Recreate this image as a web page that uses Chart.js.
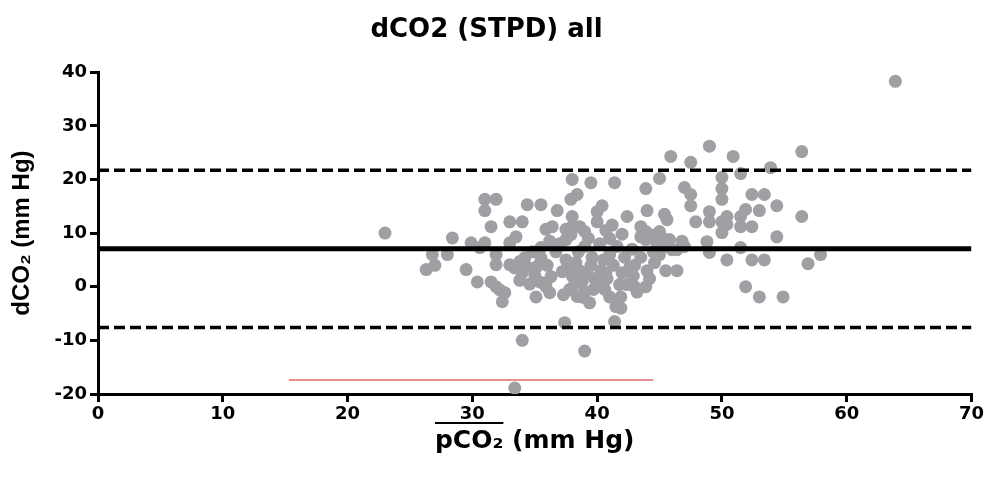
<!DOCTYPE html>
<html>
<head>
<meta charset="utf-8">
<title>dCO2 (STPD) all</title>
<script src="https://cdn.jsdelivr.net/npm/chart.js@4/dist/chart.umd.min.js"></script>
<style>
  html, body { margin: 0; padding: 0; background: #fff; }
  canvas { display: block; }
</style>
</head>
<body>
<canvas id="bland-chart" width="986" height="478"></canvas>
<script>
// measured pairs: mean pCO2 (x) vs difference dCO2 (y)
const pco2Mean = [
  23, 26.3, 26.8, 27, 28, 28.4, 29.5, 29.9, 30.4, 30.6,
  31, 31, 31, 31.9, 31.5, 31.5, 31.9, 32.2, 32.6, 32.4, 31.9, 31.9, 33, 34, 33, 33.5, 33, 33.4, 33.8, 34.2, 34.4, 34, 34, 33.4,
  34.4, 35.5, 35, 35.4, 35.9, 36.3, 35.1, 35.9, 36.2, 35.5, 35.5, 35.9, 36.4, 36.8, 37.4,
  37.5, 37.5, 38, 37.9, 38.6, 39, 38, 37.9, 38.4, 38, 39.5,
  37.5, 37.6, 38, 38.3, 38.6, 38.2, 37.8, 38.8, 39, 39.2, 39.5, 39.8, 38.5, 39, 39.6, 37.2, 38.9, 39.4, 39,
  40.4, 40, 40, 41.4, 40.3, 40.8, 40, 41, 41.9, 41.5, 41.9, 41.4, 42, 41.8, 42.4, 40.5, 41, 41.3, 41.6, 40.2, 42.2, 42.6, 41, 40.6,
  42.4, 43.9, 45, 44, 43.5, 43.9, 43.5, 43.9, 44.3, 45, 45, 45.4, 45.8, 45.4, 45.6, 43, 43.9, 45.5, 46.4, 45, 45.5, 46, 46.4, 43, 43.5, 44, 44.5, 42.8, 44.6, 45.9,
  47.5, 49, 50.9, 47, 47.5, 47.5, 47.9, 49, 49, 50, 50, 50, 50, 50.4, 50, 50.4, 51.5, 51.9, 51.5, 51.5, 51.5, 50.4, 48.8, 49, 51.9, 47, 46.8,
  52.4, 52.4, 53.4, 53, 54.4, 54.4, 53.9, 52.4, 53.4, 53, 54.9, 56.4, 56.4, 56.9, 57.9, 63.9,
  36, 36.7, 37, 36.2, 34.8, 35.2, 34.6, 33.8, 37.3, 38.4, 39.7, 40.7, 42.9, 43.2, 44.2, 44.8, 41.2, 42, 39.3, 40.7
];
const dco2Diff = [
  10, 3.2, 6, 4, 6, 9.1, 3.2, 8.2, 0.9, 7.3,
  8.2, 16.3, 14.2, 16.3, 11.2, 0.9, 0, -0.6, -1.1, -2.8, 6, 4.1, 12.1, 12.1, 8.2, 9.3, 4.1, 3.5, 4.7, 5.4, 3.7, 2.6, -10, -18.9,
  15.3, 15.3, 2.2, 0.9, 0.7, 1.9, -1.9, 0, -1.1, 5.4, 7.3, 10.7, 11.2, 14.2, -6.7,
  10.7, 8.8, 11.2, 9.7, 11.2, 10.3, 13.1, 16.3, 17.2, 20, 19.4,
  5, 3.5, 2, 4.5, 3, 0.5, -0.5, 1, -1, 2.5, 4, 1.5, 6.5, 7.5, 5.5, 2.8, -2, -3, -12,
  15.1, 14, 12.1, 19.4, 3, 1.5, 0.5, -1.9, -1.9, -3.7, -4, -6.5, 2.6, 0.4, 0.4, 5, 6, 4, 7.5, 8, 5.5, 3.5, 9, -0.5,
  13.1, 18.3, 20.2, 14.2, 11.2, 10.3, 9.3, 8.8, 9.7, 10.3, 9.3, 8.8, 8.8, 13.5, 12.5, 0, 0, 3, 3, 6, 7.5, 6.9, 6.9, 4, 5.5, 3, 6.5, 7, 4.5, 24.3,
  23.2, 26.2, 24.3, 18.5, 17.2, 15.1, 12.1, 14, 12.1, 20.4, 18.3, 16.3, 12.1, 13.1, 10.1, 11.6, 13.1, 14.4, 11.2, 21.1, 7.3, 5, 8.4, 6.4, 0, 7.5, 8.5,
  11.2, 17.2, 17.2, 14.2, 15.1, 9.3, 22.2, 5, 5, -1.9, -1.9, 25.2, 13.1, 4.3, 6, 38.3,
  4, 6.5, 8, 8.5, 6.5, 3.8, 0.5, 1.2, -1.5, -1.8, -0.5, 2.5, 2, -1, 1.5, 8, 11.5, 9.8, 9, 10.5
];

// bias and limits of agreement (drawn across the full x range)
const biasMean = 7.1;
const limitUpper = 21.7;
const limitLower = -7.6;
const lineXRange = [0, 70];

// short red reference segment near the bottom
const redSegmentX = [15.3, 44.5];
const redSegmentY = -17.4;

// axis ticks
const xTicks = [0, 10, 20, 30, 40, 50, 60, 70];
const yTicks = [-20, -10, 0, 10, 20, 30, 40];

const TEXT_FONT = 'DejaVu Sans';

// Draw the bar over "pCO2" in the x axis title
const overlinePlugin = {
  id: 'overline',
  afterDraw(chart) {
    const scale = chart.scales.x;
    const title = scale.options.title;
    const size = title.font.size;
    const ctx = chart.ctx;
    ctx.save();
    ctx.font = 'bold ' + size + 'px ' + TEXT_FONT;
    const fullWidth = ctx.measureText(title.text).width;
    const partWidth = ctx.measureText('pCO\u2082').width;
    const lineHeight = size * 1.2;
    const titleY = scale.bottom - title.padding.bottom - lineHeight / 2;
    const startX = (scale.left + scale.right) / 2 - fullWidth / 2;
    ctx.strokeStyle = '#000';
    ctx.lineWidth = 2;
    ctx.beginPath();
    ctx.moveTo(startX, titleY - 18);
    ctx.lineTo(startX + partWidth, titleY - 18);
    ctx.stroke();
    ctx.restore();
  }
};

function horizontalLine(y, dash, width, color) {
  return {
    data: lineXRange.map(x => ({ x: x, y: y })),
    showLine: true,
    pointRadius: 0,
    borderColor: color,
    borderWidth: width,
    borderDash: dash,
    order: 0
  };
}

document.addEventListener('DOMContentLoaded', function() {
  const points = pco2Mean.map((x, i) => ({ x: x, y: dco2Diff[i] }));

  const ctx = document.getElementById('bland-chart').getContext('2d');

  new Chart(ctx, {
    type: 'scatter',
    data: {
      datasets: [
        horizontalLine(biasMean, [], 5, '#000'),
        horizontalLine(limitUpper, [11, 5], 3.5, '#000'),
        horizontalLine(limitLower, [11, 5], 3.5, '#000'),
        {
          data: redSegmentX.map(x => ({ x: x, y: redSegmentY })),
          showLine: true,
          pointRadius: 0,
          borderColor: '#e8686a',
          borderWidth: 1.5,
          order: 0
        },
        {
          data: points,
          pointRadius: 6.5,
          pointBackgroundColor: '#a0a0a4',
          pointBorderWidth: 0,
          order: 1
        }
      ]
    },
    options: {
      responsive: false,
      animation: false,
      layout: { padding: { left: 0, right: 13, top: 0, bottom: 0 } },
      plugins: {
        legend: { display: false },
        tooltip: { enabled: false },
        title: {
          display: true,
          text: 'dCO2 (STPD) all',
          color: '#000',
          font: { family: TEXT_FONT, size: 26, weight: 'bold' },
          padding: { top: 15, bottom: 26 }
        }
      },
      scales: {
        x: {
          type: 'linear',
          min: 0,
          max: 70,
          afterFit: scale => { scale.height = 84; },
          afterBuildTicks: scale => { scale.ticks = xTicks.map(v => ({ value: v })); },
          border: { display: true, color: '#000', width: 3 },
          grid: { display: true, drawOnChartArea: false, drawTicks: true, tickLength: 8, lineWidth: 3, color: '#000' },
          ticks: {
            color: '#000',
            padding: 2,
            font: { family: TEXT_FONT, size: 18, weight: 'bold' }
          },
          title: {
            display: true,
            text: 'pCO\u2082 (mm Hg)',
            color: '#000',
            font: { family: TEXT_FONT, size: 25, weight: 'bold' },
            padding: { top: 0, bottom: 22 }
          }
        },
        y: {
          type: 'linear',
          min: -20,
          max: 40,
          afterFit: scale => { scale.width = 98; },
          afterBuildTicks: scale => { scale.ticks = yTicks.map(v => ({ value: v })); },
          border: { display: true, color: '#000', width: 3 },
          grid: { display: true, drawOnChartArea: false, drawTicks: true, tickLength: 8, lineWidth: 3, color: '#000' },
          ticks: {
            color: '#000',
            padding: 3,
            font: { family: TEXT_FONT, size: 18, weight: 'bold' }
          },
          title: {
            display: true,
            text: 'dCO\u2082 (mm Hg)',
            color: '#000',
            font: { family: 'Liberation Sans', size: 24, weight: 'bold' },
            padding: { top: 8, bottom: 0 }
          }
        }
      }
    },
    plugins: [overlinePlugin]
  });
});
</script>
</body>
</html>
